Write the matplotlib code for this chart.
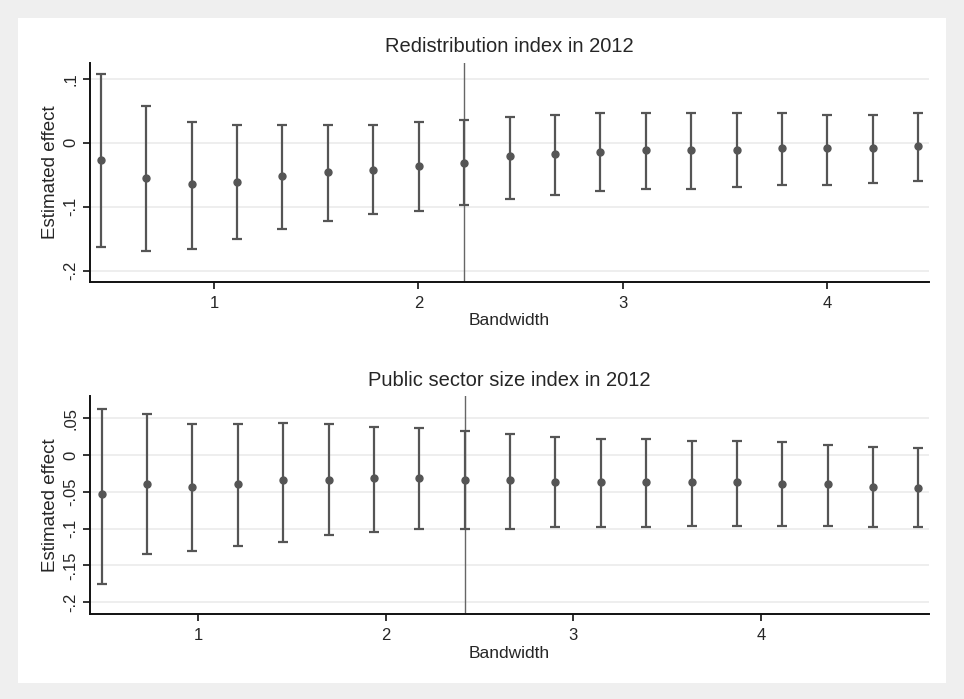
import matplotlib
matplotlib.use("Agg")
import matplotlib.pyplot as plt

plt.rcParams['font.family'] = ['Liberation Sans', 'DejaVu Sans']

# ---- Data ----
bw_top = [0.445, 0.667, 0.890, 1.112, 1.334, 1.557, 1.779, 2.001, 2.224, 2.446,
          2.668, 2.891, 3.113, 3.335, 3.558, 3.780, 4.002, 4.225, 4.447]
est_top = [-0.027, -0.055, -0.065, -0.062, -0.052, -0.046, -0.042, -0.036, -0.031, -0.020,
           -0.018, -0.014, -0.011, -0.011, -0.011, -0.008, -0.008, -0.008, -0.005]
hi_top = [0.107, 0.057, 0.032, 0.028, 0.028, 0.028, 0.028, 0.032, 0.035, 0.040,
          0.044, 0.047, 0.047, 0.047, 0.047, 0.047, 0.044, 0.044, 0.047]
lo_top = [-0.163, -0.169, -0.166, -0.150, -0.135, -0.122, -0.112, -0.107, -0.097, -0.088,
          -0.081, -0.076, -0.072, -0.072, -0.069, -0.066, -0.066, -0.063, -0.060]
vline_top = 2.224
title_top = "Redistribution index in 2012"
yticks_top = [-0.2, -0.1, 0.0, 0.1]
yticklabels_top = ["-.2", "-.1", "0", ".1"]
xticks_top = [1, 2, 3, 4]

bw_bot = [0.484, 0.726, 0.968, 1.210, 1.452, 1.694, 1.936, 2.178, 2.420, 2.662,
          2.904, 3.146, 3.388, 3.630, 3.872, 4.114, 4.356, 4.598, 4.840]
est_bot = [-0.053, -0.040, -0.043, -0.040, -0.034, -0.034, -0.031, -0.031, -0.034, -0.034,
           -0.037, -0.037, -0.037, -0.037, -0.037, -0.040, -0.040, -0.043, -0.045]
hi_bot = [0.063, 0.055, 0.042, 0.042, 0.044, 0.042, 0.038, 0.036, 0.033, 0.028,
          0.025, 0.022, 0.022, 0.019, 0.019, 0.017, 0.014, 0.011, 0.009]
lo_bot = [-0.175, -0.134, -0.131, -0.123, -0.118, -0.109, -0.104, -0.101, -0.101, -0.101,
          -0.098, -0.098, -0.098, -0.096, -0.096, -0.096, -0.096, -0.098, -0.098]
vline_bot = 2.420
title_bot = "Public sector size index in 2012"
yticks_bot = [-0.2, -0.15, -0.1, -0.05, 0.0, 0.05]
yticklabels_bot = ["-.2", "-.15", "-.1", "-.05", "0", ".05"]
xticks_bot = [1, 2, 3, 4]

W, H = 964, 699
fig = plt.figure(figsize=(W / 100, H / 100), dpi=100)
fig.patch.set_facecolor("#efefef")
# inner white panel
fig.patches.append(plt.Rectangle((18 / W, 1 - 683 / H), (946 - 18) / W, (683 - 18) / H,
                                 transform=fig.transFigure, facecolor="white",
                                 edgecolor="none", zorder=-10))

left = 89.5 / W
width = (928.5 - 89.5) / W
TXT = "#262626"


def panel(rect, bw, est, lo, hi, vline, title, yt, ytl, xt, xlim, ylim, tpad):
    ax = fig.add_axes(rect)
    ax.set_zorder(1)
    ax.set_facecolor("none")
    col = "#555555"
    yerr = [[e - l for e, l in zip(est, lo)], [h - e for e, h in zip(est, hi)]]
    ax.errorbar(bw, est, yerr=yerr, fmt="o", color=col, ecolor=col, ms=5,
                elinewidth=1.6, capsize=3.3, capthick=1.6, zorder=3)
    ax.axvline(vline, color="#666666", lw=1.0, zorder=2)
    ax.set_xlim(*xlim)
    ax.set_ylim(*ylim)
    ax.set_yticks(yt)
    ax.set_yticklabels(ytl, rotation=90, va="center")
    ax.set_xticks(xt)
    ax.set_xticklabels([str(v) for v in xt])
    ax.grid(axis="y", color="#ebebeb", lw=1.2, zorder=0)
    ax.set_axisbelow(True)
    for s in ("top", "right"):
        ax.spines[s].set_visible(False)
    for s in ("left", "bottom"):
        ax.spines[s].set_linewidth(1.4)
        ax.spines[s].set_color("#111111")
    ax.tick_params(axis="both", length=5, width=1.2, color="#111111",
                   labelsize=12, labelcolor=TXT)
    ax.tick_params(axis="x", pad=5)
    ax.tick_params(axis="y", pad=3)
    ax.set_title(title, fontsize=14.5, color=TXT, pad=tpad)
    ax.set_xlabel("Bandwidth", fontsize=12.5, color=TXT, labelpad=2)
    ax.set_ylabel("Estimated effect", fontsize=13.5, color=TXT, labelpad=3)
    return ax


panel([left, 1 - 281.7 / H, width, (281.7 - 63.3) / H],
      bw_top, est_top, lo_top, hi_top, vline_top, title_top,
      yticks_top, yticklabels_top, xticks_top, (0.389, 4.498), (-0.217, 0.124), 8)
panel([left, 1 - 614 / H, width, (614 - 396) / H],
      bw_bot, est_bot, lo_bot, hi_bot, vline_bot, title_bot,
      yticks_bot, yticklabels_bot, xticks_bot, (0.419, 4.894), (-0.216, 0.080), 7)

fig.savefig("out.png", dpi=100, facecolor=fig.get_facecolor())
